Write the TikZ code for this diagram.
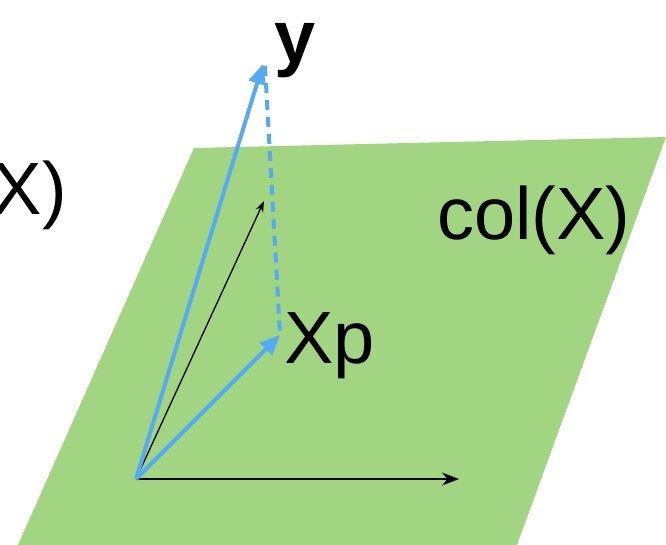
\documentclass[tikz,border=0pt]{standalone}
\usepackage{fontspec}
\setmainfont{Liberation Sans}
\usetikzlibrary{arrows.meta}
\definecolor{planegreen}{HTML}{A2D581}
\definecolor{vecblue}{HTML}{55AAF5}
\tikzset{
  bigtext/.style={font=\fontsize{74}{80}\selectfont, inner sep=0pt},
  bluevec/.style={vecblue, line width=4pt, -{Triangle[length=20pt,width=17pt]}},
}
\begin{document}
\begin{tikzpicture}[x=1pt, y=-1pt]
\useasboundingbox (0,0) rectangle (666,545);
\fill[planegreen] (18,545) -- (194,148) -- (666,137) -- (517,545) -- cycle;
\coordinate (o) at (136,479);
\coordinate (yv) at (263,64);
\coordinate (xp) at (280,335);
\coordinate (e1) at (459,479);
\coordinate (e2) at (264,201);
\draw[line width=2.2pt, -{Stealth[length=17pt,width=13pt]}] (o) -- (e1);
\draw[line width=1.3pt, -{Stealth[length=11pt,width=8pt]}] (o) -- (e2);
\draw[bluevec] (o) -- (yv);
\draw[bluevec] (o) -- (xp);
\draw[vecblue, line width=4pt, dash pattern=on 10pt off 7pt] (265,66) -- (xp);
\node[bigtext, anchor=base west, font=\fontsize{74}{80}\selectfont\bfseries] (ylab) at (274,63) {y};
\node[bigtext, anchor=base west] (xplab) at (284,363) {Xp};
\node[bigtext, anchor=base west] (collab) at (437,240) {col(X)};
\node[bigtext, anchor=base east] (xlab) at (67,215) {X)};
\end{tikzpicture}
\end{document}
